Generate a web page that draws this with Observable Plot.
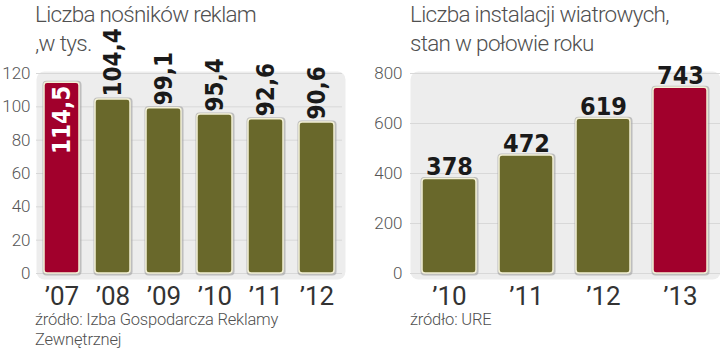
<!DOCTYPE html>
<html>
<head>
<meta charset="utf-8">
<script src="https://cdn.jsdelivr.net/npm/d3@7"></script>
<script src="https://cdn.jsdelivr.net/npm/@observablehq/plot@0.6"></script>
<style>
  html, body { margin: 0; padding: 0; background: #fff; }
  #root { position: relative; width: 720px; height: 364px; overflow: hidden; font-family: Roboto, "Liberation Sans", sans-serif; }
  .title { position: absolute; font-size: 22.5px; font-weight: 300; color: #505050; line-height: 29px; letter-spacing: -0.7px; white-space: nowrap; }
  .source { position: absolute; font-size: 16.5px; font-weight: 300; color: #505050; line-height: 19.5px; letter-spacing: -0.2px; white-space: nowrap; }
  .chart { position: absolute; }
</style>
</head>
<body>
<div id="root">
  <div class="title" id="t1" style="left:35px; top:0px;"></div>
  <div class="title" id="t2" style="left:410px; top:0px;"></div>
  <div class="chart" id="c1" style="left:0px; top:30px;"></div>
  <div class="chart" id="c2" style="left:358px; top:30px;"></div>
  <div class="source" id="s1" style="left:35px; top:310px;"></div>
  <div class="source" id="s2" style="left:410px; top:310px;"></div>
</div>
<script>
// ---- Data ----
const leftTitle = ["Liczba nośników reklam", ",w tys."];
const leftSource = ["źródło: Izba Gospodarcza Reklamy", "Zewnętrznej"];
const leftYears = ["’07", "’08", "’09", "’10", "’11", "’12"];
const leftValues = [114.5, 104.4, 99.1, 95.4, 92.6, 90.6];
const leftLabels = ["114,5", "104,4", "99,1", "95,4", "92,6", "90,6"];
const leftTicks = [0, 20, 40, 60, 80, 100, 120];
const leftHighlight = "’07";

const rightTitle = ["Liczba instalacji wiatrowych,", "stan w połowie roku"];
const rightSource = ["źródło: URE"];
const rightYears = ["’10", "’11", "’12", "’13"];
const rightValues = [378, 472, 619, 743];
const rightLabels = ["378", "472", "619", "743"];
const rightTicks = [0, 200, 400, 600, 800];
const rightHighlight = "’13";

// ---- Styles ----
const OLIVE = "#69682b";
const RED = "#a1002c";
const BORDER = "#f4f1d6";
const SHADOW = "#a9a9a9";
const BG = "#ededed";
const GRID = "#d8d8d8";
const valueFont = "'DejaVu Sans Condensed', 'Liberation Sans Narrow', sans-serif";

document.getElementById("t1").innerHTML = leftTitle.join("<br>");
document.getElementById("t2").innerHTML = rightTitle.join("<br>");
document.getElementById("s1").innerHTML = leftSource.join("<br>");
document.getElementById("s2").innerHTML = rightSource.join("<br>");

const left = leftYears.map((year, i) => ({year, value: leftValues[i], label: leftLabels[i], hi: year === leftHighlight}));
const right = rightYears.map((year, i) => ({year, value: rightValues[i], label: rightLabels[i], hi: year === rightHighlight}));

function barMarks(data) {
  return [
    Plot.barY(data, {x: "year", y: "value", fill: SHADOW, fillOpacity: 0.7, rx: 4,
      insetLeft: -2, insetRight: -2, insetTop: -2, insetBottom: -2, dx: 0.5, dy: 0.5}),
    Plot.barY(data, {x: "year", y: "value", fill: d => d.hi ? RED : OLIVE,
      stroke: BORDER, strokeWidth: 1.5, rx: 3})
  ];
}

// Left chart
const c1 = Plot.plot({
  width: 352, height: 280,
  marginLeft: 36, marginRight: 10, marginTop: 43, marginBottom: 37,
  style: {background: "transparent", overflow: "visible", fontFamily: "Roboto, sans-serif"},
  x: {domain: leftYears, paddingInner: 0.32, paddingOuter: 0.116, label: null},
  y: {domain: [0, 120], label: null},
  marks: [
    Plot.frame({fill: BG, rx: 8, insetTop: -2, insetBottom: -6, insetRight: -3}),
    Plot.gridY(leftTicks, {stroke: GRID, strokeOpacity: 1}),
    ...barMarks(left),
    Plot.axisY(leftTicks, {tickSize: 0, tickPadding: 6, fontSize: 17, fill: "#555", fontWeight: 300, label: null}),
    Plot.axisX({tickSize: 0, tickPadding: 13, fontSize: 26, fill: "#333", label: null}),
    Plot.text(left.filter(d => !d.hi), {x: "year", y: "value", text: "label", rotate: -90,
      textAnchor: "start", lineAnchor: "middle", dy: -3, fontSize: 24, fontWeight: "bold",
      fontFamily: valueFont, fill: "#1a1a1a"}),
    Plot.text(left.filter(d => d.hi), {x: "year", y: "value", text: "label", rotate: -90,
      textAnchor: "end", lineAnchor: "middle", dy: 3, fontSize: 24, fontWeight: "bold",
      fontFamily: valueFont, fill: "#fff"})
  ]
});
document.getElementById("c1").appendChild(c1);

// Right chart
const c2 = Plot.plot({
  width: 362, height: 280,
  marginLeft: 52, marginRight: 0, marginTop: 43, marginBottom: 37,
  style: {background: "transparent", overflow: "visible", fontFamily: "Roboto, sans-serif"},
  x: {domain: rightYears, paddingInner: 0.295, paddingOuter: 0.141, label: null},
  y: {domain: [0, 800], label: null},
  marks: [
    Plot.frame({fill: BG, rx: 8, insetTop: -2, insetBottom: -6, insetRight: 0}),
    Plot.gridY(rightTicks, {stroke: GRID, strokeOpacity: 1}),
    ...barMarks(right),
    Plot.axisY(rightTicks, {tickSize: 0, tickPadding: 8, fontSize: 17, fill: "#555", fontWeight: 300, label: null}),
    Plot.axisX({tickSize: 0, tickPadding: 13, fontSize: 26, fill: "#333", label: null}),
    Plot.text(right, {x: "year", y: "value", text: "label", textAnchor: "middle", lineAnchor: "bottom",
      dy: -4, fontSize: 25, fontWeight: "bold", fontFamily: valueFont, fill: "#1a1a1a"})
  ]
});
document.getElementById("c2").appendChild(c2);
</script>
</body>
</html>
